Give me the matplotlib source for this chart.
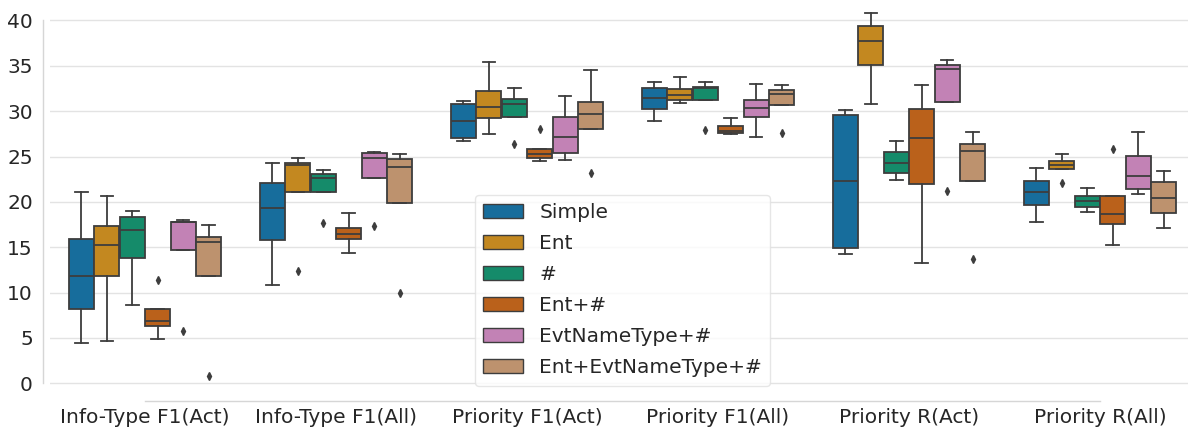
import colorsys
import matplotlib
matplotlib.use("Agg")
import matplotlib.pyplot as plt
import matplotlib.colors as mcolors
from matplotlib.patches import Patch

groups = ["Info-Type F1(Act)", "Info-Type F1(All)", "Priority F1(Act)",
          "Priority F1(All)", "Priority R(Act)", "Priority R(All)"]
methods = ["Simple", "Ent", "#", "Ent+#", "EvtNameType+#", "Ent+EvtNameType+#"]

# rows = groups, columns = methods
medians = [
    [11.83, 15.21, 16.86, 6.90, 17.74, 15.61],
    [19.36, 24.02, 22.59, 16.42, 24.87, 23.80],
    [28.87, 30.49, 30.74, 25.23, 27.14, 29.68],
    [31.48, 31.77, 32.51, 27.84, 30.38, 31.85],
    [22.26, 37.69, 24.32, 27.07, 34.60, 25.56],
    [21.05, 24.10, 20.09, 18.70, 22.85, 20.46],
]
q1s = [
    [8.19, 11.83, 13.85, 6.32, 14.69, 11.83],
    [15.76, 21.05, 21.12, 15.87, 22.66, 19.83],
    [27.07, 29.24, 29.38, 24.87, 25.42, 28.03],
    [30.19, 31.22, 31.26, 27.55, 29.31, 30.67],
    [14.91, 35.04, 23.21, 21.97, 31.00, 22.26],
    [19.69, 23.62, 19.43, 17.56, 21.38, 18.73],
]
q3s = [
    [15.94, 17.30, 18.37, 8.15, 17.81, 16.16],
    [22.08, 24.32, 23.07, 17.08, 25.38, 24.68],
    [30.74, 32.21, 31.37, 25.79, 29.35, 31.00],
    [32.51, 32.47, 32.65, 28.32, 31.22, 32.29],
    [29.53, 39.41, 25.49, 30.23, 35.11, 26.37],
    [22.30, 24.46, 20.64, 20.68, 25.09, 22.15],
]
whis_lo = [
    [4.48, 4.63, 8.60, 4.89, 14.69, 11.83],
    [10.84, 21.05, 21.12, 14.33, 22.66, 19.83],
    [26.70, 27.51, 29.38, 24.54, 24.61, 28.03],
    [28.91, 30.93, 31.26, 27.45, 27.18, 30.67],
    [14.25, 30.74, 22.41, 13.30, 31.00, 22.26],
    [17.81, 23.62, 18.88, 15.24, 20.86, 17.08],
]
whis_hi = [
    [21.05, 20.64, 19.03, 8.15, 17.96, 17.45],
    [24.28, 24.87, 23.47, 18.81, 25.53, 25.31],
    [31.15, 35.37, 32.51, 25.79, 31.70, 34.53],
    [33.24, 33.79, 33.17, 29.20, 33.02, 32.91],
    [30.12, 40.85, 26.67, 32.91, 35.59, 27.66],
    [23.69, 25.31, 21.52, 20.68, 27.73, 23.43],
]
outliers = [
    [[], [], [], [11.39], [5.80], [0.81]],
    [[], [12.38], [17.70], [], [17.37], [9.92]],
    [[], [], [26.34], [27.99], [], [23.18]],
    [[], [], [27.88], [], [], [27.55]],
    [[], [], [], [], [21.19], [13.66]],
    [[], [22.08], [], [25.79], [], []],
]

base_colors = ["#0173B2", "#DE8F05", "#029E73", "#D55E00", "#CC78BC", "#CA9161"]


def desat(c, prop=0.75):
    h, l, s = colorsys.rgb_to_hls(*mcolors.to_rgb(c))
    return colorsys.hls_to_rgb(h, l, s * prop)


colors = [desat(c) for c in base_colors]
edge = "#3d3d3d"

fig = plt.figure(figsize=(11.88, 4.29), dpi=100)
ax = fig.add_axes([49.5 / 1188, 34.9 / 429, 1146 / 1188, 399.5 / 429])

n = len(methods)
slot = 0.8 / n
for g in range(len(groups)):
    for m in range(n):
        st = dict(med=medians[g][m], q1=q1s[g][m], q3=q3s[g][m],
                  whislo=whis_lo[g][m], whishi=whis_hi[g][m],
                  fliers=outliers[g][m])
        pos = g - 0.4 + slot * (m + 0.5)
        ax.bxp([st], positions=[pos], widths=slot * 0.98, patch_artist=True,
               boxprops=dict(facecolor=colors[m], edgecolor=edge, linewidth=1.3),
               medianprops=dict(color=edge, linewidth=1.3),
               whiskerprops=dict(color=edge, linewidth=1.3),
               capprops=dict(color=edge, linewidth=1.3),
               flierprops=dict(marker="d", markersize=4, markerfacecolor=edge,
                               markeredgecolor=edge, linestyle="none"),
               zorder=3)

ax.set_xlim(-0.5, len(groups) - 0.5)
ax.set_ylim(-1.19, 42.85)
ax.set_xticks(range(len(groups)))
ax.set_xticklabels(groups)
ax.set_yticks(range(0, 41, 5))
ax.tick_params(axis="both", length=0, labelsize=14.5, colors="#262626")
ax.tick_params(axis="y", pad=7)
ax.tick_params(axis="x", pad=5)
ax.yaxis.grid(True, color="#e3e3e3", linewidth=1, zorder=0)
ax.xaxis.grid(False)
ax.set_axisbelow(True)

for s in ["top", "right"]:
    ax.spines[s].set_visible(False)
for s in ["left", "bottom"]:
    ax.spines[s].set_position(("outward", 5))
    ax.spines[s].set_color("#d6d6d6")
    ax.spines[s].set_linewidth(1.0)
ax.spines["left"].set_bounds(0, 40)
ax.spines["bottom"].set_bounds(0, len(groups) - 1)

handles = [Patch(facecolor=colors[i], edgecolor=edge, linewidth=1.0, label=methods[i])
           for i in range(n)]
leg = ax.legend(handles=handles, loc="upper left", fontsize=14.5,
                bbox_to_anchor=(475 / 1188, 1 - 195 / 429),
                bbox_transform=fig.transFigure, borderaxespad=0,
                labelspacing=0.6, frameon=True, fancybox=True)
leg.get_frame().set_edgecolor("#e0e0e0")
for t in leg.get_texts():
    t.set_color("#262626")

fig.savefig("out.png", dpi=100)
